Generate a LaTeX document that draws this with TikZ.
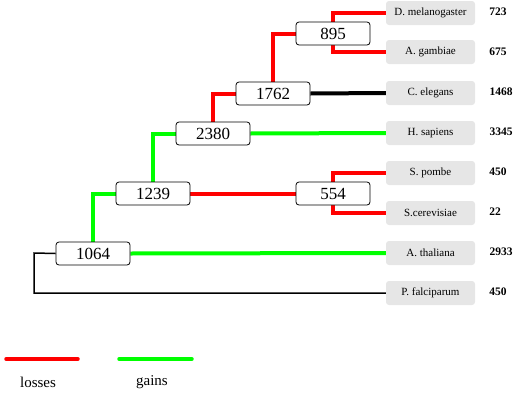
\documentclass[tikz,border=0pt]{standalone}
\usepackage{fontspec}
\setmainfont{Liberation Serif}
\usetikzlibrary{backgrounds}
\definecolor{boxgray}{RGB}{230,230,230}
\definecolor{lossred}{RGB}{255,0,0}
\definecolor{gaingreen}{RGB}{0,255,0}
\begin{document}
\begin{tikzpicture}[x=1pt, y=-1pt,
        inner/.style={draw, fill=white, line width=0.8pt, minimum width=74pt, minimum height=23pt, inner sep=0pt, align=center, font=\fontsize{17}{17}\selectfont, rounded corners=3pt},
        species/.style={fill=boxgray, minimum width=89pt, minimum height=24pt, inner sep=0pt, align=center, font=\fontsize{11}{11}\selectfont, rounded corners=3pt},
        count/.style={inner sep=0pt, font=\fontsize{11.5}{11.5}\selectfont\bfseries},
        loss/.style={draw=lossred, line width=4pt},
        gain/.style={draw=gaingreen, line width=4pt},
        keep/.style={draw=black, line width=4pt},
        legend/.style={inner sep=0pt, font=\fontsize{15}{15}\selectfont}
      ]
      \useasboundingbox (0,0) rectangle (520,394);

      % Leaves
      \node[species] (dmel) at (430.5, 13) {D. melanogaster};
      \node[species] (agam) at (430.5, 52) {A. gambiae};
      \node[species] (cele) at (430.5, 93) {C. elegans};
      \node[species] (hsap) at (430.5, 133) {H. sapiens};
      \node[species] (spom) at (430.5, 173) {S. pombe};
      \node[species] (scer) at (430.5, 213) {S.cerevisiae};
      \node[species] (atha) at (430.5, 253) {A. thaliana};
      \node[species] (pfal) at (430.5, 293) {P. falciparum};

      % Counts
      \node[count] (cdmel) at (498, 12) {723};
      \node[count] (cagam) at (498, 52) {675};
      \node[count] (ccele) at (501, 92) {1468};
      \node[count] (chsap) at (501, 132) {3345};
      \node[count] (cspom) at (498, 172) {450};
      \node[count] (cscer) at (495, 212) {22};
      \node[count] (catha) at (501, 252) {2933};
      \node[count] (cpfal) at (498, 292) {450};

      % Internal nodes
      \node[inner] (n895) at (333, 33.5) {895};
      \node[inner] (n1762) at (273, 93.5) {1762};
      \node[inner] (n2380) at (213, 133.5) {2380};
      \node[inner] (n1239) at (153, 193.5) {1239};
      \node[inner] (n554) at (333, 193.5) {554};
      \node[inner] (n1064) at (93, 253.5) {1064};

      % Branches
      \begin{pgfonlayer}{background}
      \draw[loss] (n895.north) |- (dmel.west);
      \draw[loss] (n895.south) |- (agam.west);
      \draw[loss] (n1762.north) |- (n895.west);
      \draw[keep] (n1762.east) -- (cele.west);
      \draw[loss] (n2380.north) |- (n1762.west);
      \draw[gain] (n2380.east) -- (hsap.west);
      \draw[gain] (n1239.north) |- (n2380.west);
      \draw[loss] (n1239.east) -- (n554.west);
      \draw[loss] (n554.north) |- (spom.west);
      \draw[loss] (n554.south) |- (scer.west);
      \draw[gain] (n1064.north) |- (n1239.west);
      \draw[gain] (n1064.east) -- (atha.west);
      \coordinate (rootbend) at (34, 253);
      \draw[line width=1.5pt] (n1064.west) -- (rootbend) |- (pfal.west);
      \end{pgfonlayer}

      % Legend
      \coordinate (lossL) at (6, 359);
      \coordinate (lossR) at (78, 359);
      \coordinate (gainL) at (119, 359);
      \coordinate (gainR) at (192, 359);
      \draw[loss, line width=3.5pt, line cap=round] (lossL) -- (lossR);
      \draw[gain, line width=3.5pt, line cap=round] (gainL) -- (gainR);
      \node[legend] (losslabel) at (38, 382) {losses};
      \node[legend] (gainlabel) at (152, 382) {gains};

    \end{tikzpicture}
\end{document}
